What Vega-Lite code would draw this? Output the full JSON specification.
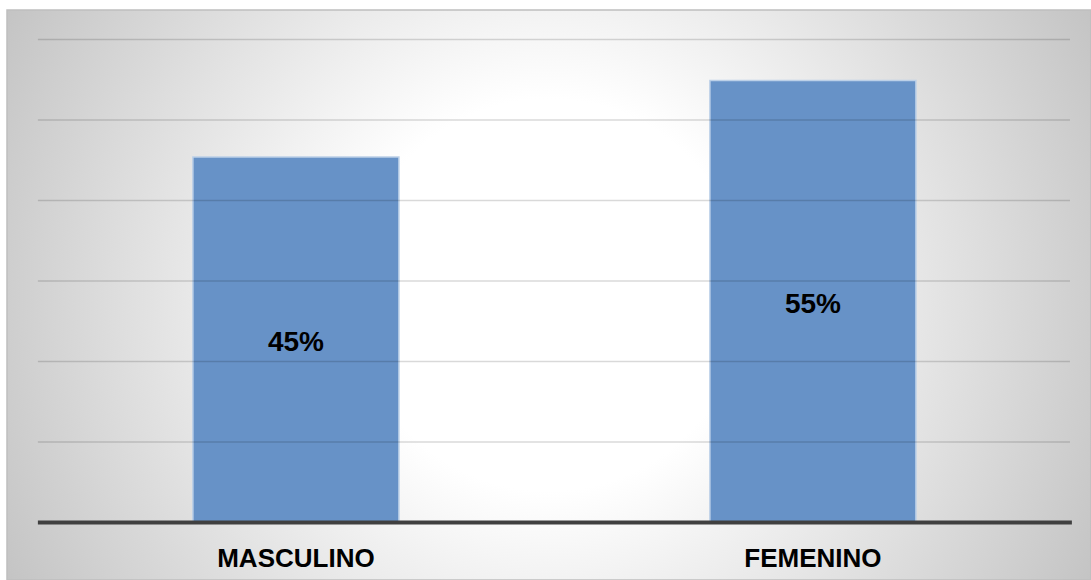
{
  "$schema": "https://vega.github.io/schema/vega-lite/v6.json",
  "width": 1084,
  "height": 570,
  "autosize": {"type": "none"},
  "padding": {"left": 7, "top": 10, "right": 0, "bottom": 0},
  "background": "#ffffff",
  "config": {
    "font": "Liberation Sans",
    "view": {
      "fill": {
        "gradient": "radial",
        "x1": 0.5, "y1": 0.5, "r1": 0,
        "x2": 0.5, "y2": 0.5, "r2": 0.565,
        "stops": [
          {"offset": 0, "color": "#ffffff"},
          {"offset": 0.32, "color": "#ffffff"},
          {"offset": 1, "color": "#c4c4c4"}
        ]
      },
      "stroke": "#bfbfbf",
      "strokeWidth": 1.5
    }
  },
  "datasets": {
    "bars": [
      {"genero": "MASCULINO", "valor": 0.454},
      {"genero": "FEMENINO", "valor": 0.549}
    ],
    "grid": [
      {"t": 0.1}, {"t": 0.2}, {"t": 0.3}, {"t": 0.4}, {"t": 0.5}, {"t": 0.6}
    ]
  },
  "layer": [
    {
      "data": {"name": "bars"},
      "mark": {"type": "bar", "color": "#6792c7", "stroke": "#bcd0e8", "strokeWidth": 1.5},
      "encoding": {
        "x": {
          "field": "genero",
          "type": "nominal",
          "sort": null,
          "scale": {
            "type": "band",
            "domain": ["MASCULINO", "FEMENINO"],
            "paddingInner": 0.6015,
            "paddingOuter": 0.3491,
            "align": 0.515
          },
          "axis": {
            "title": null,
            "orient": "bottom",
            "offset": -57.5,
            "domain": false,
            "ticks": false,
            "grid": false,
            "labelAngle": 0,
            "labelPadding": 22.5,
            "labelFontSize": 26,
            "labelFontWeight": "bold",
            "labelColor": "#000000",
            "labelFont": "Liberation Sans"
          }
        },
        "y": {
          "field": "valor",
          "type": "quantitative",
          "scale": {"domain": [-0.0714, 0.6366], "nice": false, "zero": false},
          "axis": null
        }
      }
    },
    {
      "data": {"name": "grid"},
      "mark": {"type": "rule", "stroke": "#000000", "strokeOpacity": 0.15, "strokeWidth": 1.5},
      "encoding": {
        "x": {"datum": "MASCULINO", "type": "nominal", "bandPosition": -0.7524},
        "x2": {"datum": "FEMENINO", "bandPosition": 1.7476},
        "y": {"field": "t", "type": "quantitative"}
      }
    },
    {
      "data": {"values": [{"t": 0}]},
      "mark": {"type": "rule", "stroke": "#404040", "strokeWidth": 4},
      "encoding": {
        "x": {"datum": "MASCULINO", "type": "nominal", "bandPosition": -0.7524},
        "x2": {"datum": "FEMENINO", "bandPosition": 1.757},
        "y": {"field": "t", "type": "quantitative"}
      }
    },
    {
      "data": {"name": "bars"},
      "transform": [{"calculate": "datum.valor / 2", "as": "mitad"}],
      "mark": {"type": "text", "fontSize": 28, "fontWeight": "bold", "baseline": "middle", "dy": 3, "color": "#000000", "font": "Liberation Sans"},
      "encoding": {
        "x": {"field": "genero", "type": "nominal"},
        "y": {"field": "mitad", "type": "quantitative"},
        "text": {"field": "valor", "type": "quantitative", "format": ".0%"}
      }
    }
  ]
}
